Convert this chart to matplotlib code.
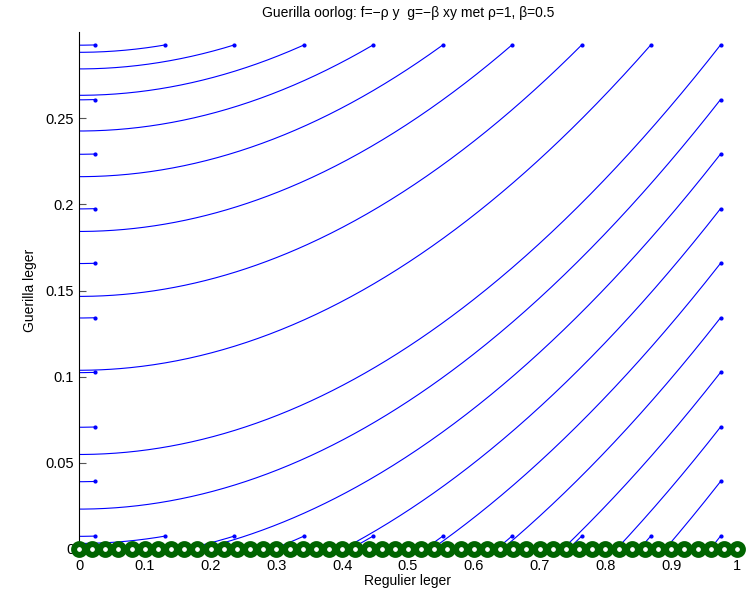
import numpy as np
import matplotlib
matplotlib.use("Agg")
import matplotlib.pyplot as plt

plt.rcParams['font.family'] = ['Liberation Sans', 'DejaVu Sans']

# model parameters (from title)
rho = 1.0
beta = 0.5

# starting points on the grid boundary
grid_x = [0.025, 0.131, 0.236, 0.342, 0.447, 0.553, 0.658, 0.764, 0.869, 0.975]
grid_y = [0.0075, 0.0392, 0.0708, 0.1025, 0.1342, 0.1658, 0.1975, 0.2292, 0.2608, 0.2925]

# equilibria along y = 0
eq_x = [i / 50 for i in range(51)]

xticks = [0, 0.1, 0.2, 0.3, 0.4, 0.5, 0.6, 0.7, 0.8, 0.9, 1]
xticklabels = ['0', '0.1', '0.2', '0.3', '0.4', '0.5', '0.6', '0.7', '0.8', '0.9', '1']
yticks = [0, 0.05, 0.1, 0.15, 0.2, 0.25]
yticklabels = ['0', '0.05', '0.1', '0.15', '0.2', '0.25']

fig = plt.figure(figsize=(7.47, 5.92), dpi=100)
ax = fig.add_axes([79 / 747, 1 - 549 / 592, (737 - 79) / 747, (549 - 32) / 592])

starts = []
for yv in grid_y:
    starts.append((grid_x[0], yv))
    starts.append((grid_x[-1], yv))
for xv in grid_x[1:-1]:
    starts.append((xv, grid_y[0]))
    starts.append((xv, grid_y[-1]))

k = beta / (2 * rho)
for x0, y0 in starts:
    # trajectory of x' = -rho*y, y' = -beta*x*y : y - k x^2 = const
    c = y0 - k * x0 ** 2
    if c >= 0:
        xe = -0.01
    else:
        xe = np.sqrt(-c / k)
    xs = np.linspace(xe, x0, 300)
    ys = c + k * xs ** 2
    ax.plot(xs, ys, color='#0000ff', lw=0.8)
    ax.plot([x0], [y0], '.', color='#0000ff', ms=4)

ax.plot(eq_x, [0] * len(eq_x), 'o', color='#006400', mfc='white', ms=7.8,
        mew=4.3, clip_on=False, zorder=5)

ax.set_xlim(0, 1)
ax.set_ylim(0, 0.3)
ax.set_xticks(xticks)
ax.set_xticklabels(xticklabels)
ax.set_yticks(yticks)
ax.set_yticklabels(yticklabels)
ax.tick_params(direction='in', labelsize=10.5, length=5, color='#555555')
ax.spines['top'].set_visible(False)
ax.spines['right'].set_visible(False)
ax.spines['bottom'].set_visible(False)
ax.tick_params(axis='x', pad=7)
ax.set_xlabel('Regulier leger', fontsize=10, labelpad=1)
ax.set_ylabel('Guerilla leger', fontsize=10, labelpad=6)
ax.set_title('Guerilla oorlog: f=\u2212\u03c1 y  g=\u2212\u03b2 xy met \u03c1=1, \u03b2=0.5',
             fontsize=10, pad=11)

fig.savefig('out.png', dpi=100)
